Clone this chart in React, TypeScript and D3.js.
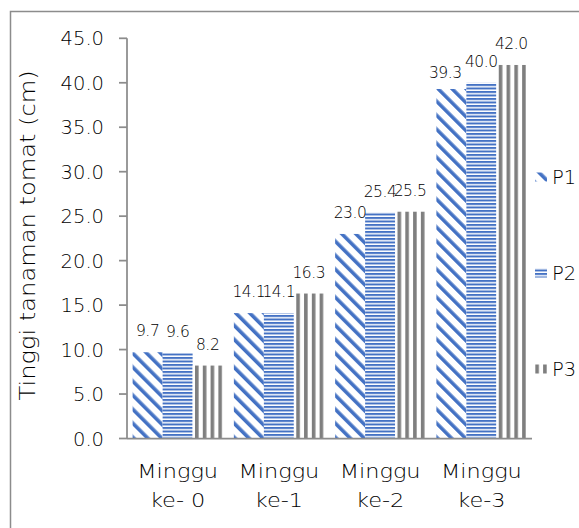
import React from "react";
import * as d3 from "d3";

// Plant height per week, three treatments
const categories = ["Minggu ke- 0", "Minggu ke-1", "Minggu ke-2", "Minggu ke-3"];
const seriesNames = ["P1", "P2", "P3"];
const p1Values = [9.7, 14.1, 23.0, 39.3];
const p2Values = [9.6, 14.1, 25.4, 40.0];
const p3Values = [8.2, 16.3, 25.5, 42.0];
const yTicks = [0, 5, 10, 15, 20, 25, 30, 35, 40, 45];
const yTitle = "Tinggi tanaman tomat (cm)";

const W = 579;
const H = 528;
const plot = { left: 127, right: 532, top: 38.3, bottom: 438.5 };

const BLUE = "#4472C4";
const GRAY = "#7F7F7F";
const AXIS = "#8C8C8C";
const TEXT = "#000000";
const FONT = "'DejaVu Sans', sans-serif";
const WEIGHT = 200;

// hand-placed data label that was nudged off its default spot
const labelNudge: Record<string, [number, number]> = { "P1|3": [-6, 5] };

export default function App() {
  const values = [p1Values, p2Values, p3Values];

  const x0 = d3
    .scaleBand<string>()
    .domain(categories)
    .range([plot.left, plot.right])
    .paddingInner(0)
    .paddingOuter(0);

  const x1 = d3
    .scaleBand<string>()
    .domain(seriesNames)
    .range([0, x0.bandwidth()])
    .paddingInner(0)
    .paddingOuter(0.1875);

  const y = d3.scaleLinear().domain([0, 45]).range([plot.bottom, plot.top]);
  const fmt = d3.format(".1f");

  // vertical stripes start flush with each P3 bar
  const vStep = x0.step() / 13;
  const vOrigin = (x0(categories[0]) ?? 0) + (x1("P3") ?? 0);

  const fills = ["url(#patP1)", "url(#patP2)", "url(#patP3)"];

  const legendX = 535;
  const legendY0 = 177;
  const legendStep = 96;

  return (
    <svg
      width={W}
      height={H}
      style={{ position: "absolute", left: 0, top: 0, background: "#fff" }}
      fontFamily={FONT}
      fontWeight={WEIGHT}
    >
      <defs>
        <pattern
          id="patP1"
          patternUnits="userSpaceOnUse"
          width={9.9}
          height={9.9}
          patternTransform="rotate(-45)"
        >
          <rect width={9.9} height={9.9} fill="#fff" />
          <rect x={0} y={0} width={3.6} height={9.9} fill={BLUE} />
        </pattern>
        <pattern id="patP2" patternUnits="userSpaceOnUse" width={8} height={3.5}>
          <rect width={8} height={3.5} fill="#fff" />
          <rect x={0} y={0} width={8} height={2} fill={BLUE} />
        </pattern>
        <pattern
          id="patP3"
          patternUnits="userSpaceOnUse"
          x={vOrigin}
          y={0}
          width={vStep}
          height={8}
        >
          <rect width={vStep} height={8} fill="#fff" />
          <rect x={0} y={0} width={3.6} height={8} fill={GRAY} />
        </pattern>
      </defs>

      <rect x={0} y={0} width={W} height={H} fill="#fff" />
      <rect
        x={10.5}
        y={11.5}
        width={W + 100}
        height={H + 100}
        fill="none"
        stroke={AXIS}
        strokeWidth={1.5}
      />

      {/* bars */}
      {categories.map((c, ci) => (
        <g key={c} transform={`translate(${x0(c)},0)`}>
          {seriesNames.map((s, si) => {
            const v = values[si][ci];
            return (
              <rect
                key={s}
                x={x1(s)}
                y={y(v)}
                width={x1.bandwidth()}
                height={y(0) - y(v)}
                fill={fills[si]}
              />
            );
          })}
        </g>
      ))}

      {/* value labels */}
      {categories.map((c, ci) =>
        seriesNames.map((s, si) => {
          const v = values[si][ci];
          const [nx, ny] = labelNudge[`${s}|${ci}`] ?? [0, 0];
          return (
            <text
              key={`${c}-${s}`}
              x={(x0(c) ?? 0) + (x1(s) ?? 0) + x1.bandwidth() / 2 + nx}
              y={y(v) - 16 + ny}
              textAnchor="middle"
              fontSize={15.5}
              letterSpacing={-0.4}
              fill={TEXT}
            >
              {fmt(v)}
            </text>
          );
        })
      )}

      {/* y axis */}
      <line x1={plot.left} x2={plot.left} y1={plot.top} y2={plot.bottom} stroke={AXIS} strokeWidth={1.75} />
      {yTicks.map((t) => (
        <g key={t}>
          <line x1={plot.left - 8} x2={plot.left} y1={y(t)} y2={y(t)} stroke={AXIS} strokeWidth={1.75} />
          <text
            x={104}
            y={y(t)}
            dy="0.36em"
            textAnchor="end"
            fontSize={19.5}
            fill={TEXT}
          >
            {fmt(t)}
          </text>
        </g>
      ))}

      {/* x axis */}
      <line x1={plot.left} x2={plot.right} y1={plot.bottom} y2={plot.bottom} stroke={AXIS} strokeWidth={1.75} />
      {categories.map((c) => {
        const cx = (x0(c) ?? 0) + x0.bandwidth() / 2;
        const i = c.indexOf(" ");
        const lines = [c.slice(0, i), c.slice(i + 1)];
        return (
          <g key={c}>
            {lines.map((ln, li) => (
              <text
                key={li}
                transform={`translate(${cx},${478 + li * 29}) scale(1.15,1)`}
                textAnchor="middle"
                fontSize={19.5}
                fill={TEXT}
              >
                {ln}
              </text>
            ))}
          </g>
        );
      })}

      {/* y title */}
      <text
        transform={`translate(35,${(plot.top + plot.bottom) / 2 - 3}) rotate(-90) scale(1.15,1)`}
        textAnchor="middle"
        fontSize={21}
        fill={TEXT}
      >
        {yTitle}
      </text>

      {/* legend */}
      {seriesNames.map((s, i) => {
        const cy = legendY0 + i * legendStep;
        return (
          <g key={s}>
            <rect x={legendX} y={cy - 4.5} width={12} height={9} fill={fills[i]} />
            <text x={legendX + 17} y={cy} dy="0.36em" fontSize={19.5} fill={TEXT}>
              {s}
            </text>
          </g>
        );
      })}
    </svg>
  );
}
